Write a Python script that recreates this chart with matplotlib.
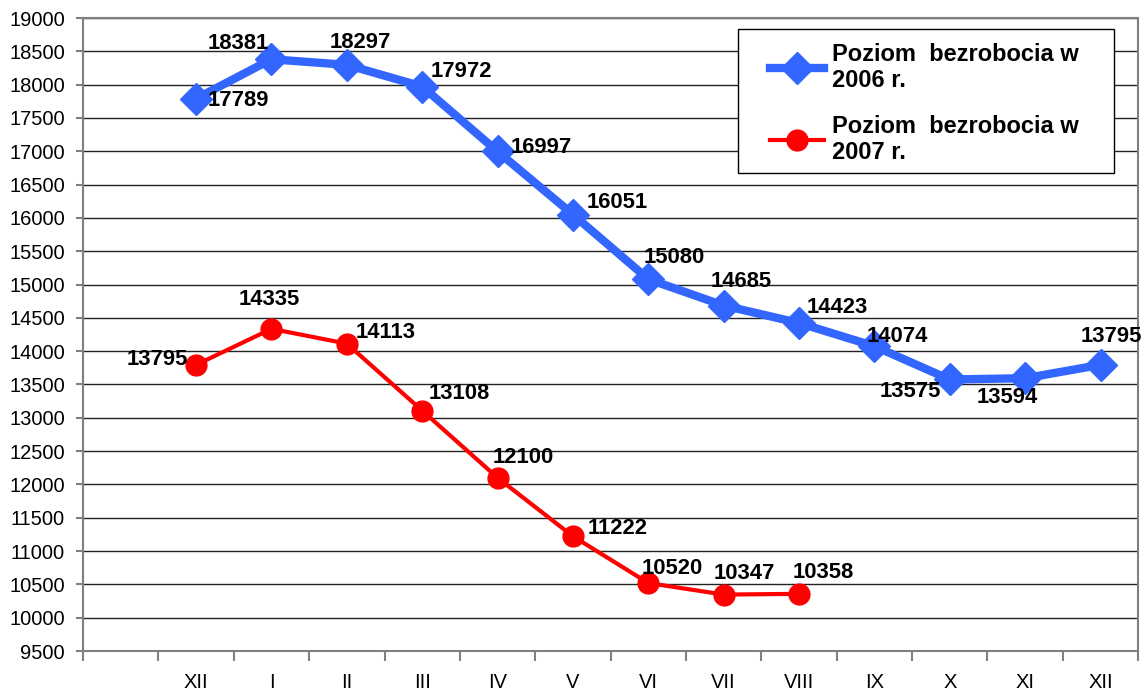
import matplotlib.pyplot as plt
from matplotlib.patches import Rectangle

plt.rcParams['font.family'] = ['Liberation Sans', 'DejaVu Sans']

months = ['', 'XII', 'I', 'II', 'III', 'IV', 'V', 'VI', 'VII', 'VIII', 'IX', 'X', 'XI', 'XII']
bezrobocie_2006 = [17789, 18381, 18297, 17972, 16997, 16051, 15080, 14685, 14423, 14074, 13575, 13594, 13795]
bezrobocie_2007 = [13795, 14335, 14113, 13108, 12100, 11222, 10520, 10347, 10358]

# label offsets in pixels (dx, dy, horizontal alignment)
off_2006 = [(12, -2, 'left'), (-3, 16, 'right'), (44, 22, 'right'), (8, 15, 'left'),
            (13, 4, 'left'), (14, 12, 'left'), (-5, 22, 'left'), (-13, 24, 'left'),
            (8, 15, 'left'), (-8, 10, 'left'), (-9, -12, 'right'), (-49, -19, 'left'),
            (-20, 28, 'left')]
off_2007 = [(-8, 5, 'right'), (-33, 29, 'left'), (9, 11, 'left'), (6, 17, 'left'),
            (-5, 20, 'left'), (15, 8, 'left'), (-7, 15, 'left'), (-10, 21, 'left'),
            (-6, 21, 'left')]


def main():
    fig = plt.figure(figsize=(11.42, 6.90), dpi=100)
    ax = fig.add_axes([0.0727, 0.0565, 0.924, 0.9174])

    x06 = list(range(1, 1 + len(bezrobocie_2006)))
    x07 = list(range(1, 1 + len(bezrobocie_2007)))

    ax.plot(x06, bezrobocie_2006, color='#3366FF', lw=6, marker='D', markersize=16,
            label='Poziom  bezrobocia w\n2006 r.', zorder=3)
    ax.plot(x07, bezrobocie_2007, color='#FF0000', lw=3, marker='o', markersize=15,
            label='Poziom  bezrobocia w\n2007 r.', zorder=3)

    for x, y, (dx, dy, ha) in zip(x06, bezrobocie_2006, off_2006):
        ax.annotate(str(y), (x, y), xytext=(dx * 0.72, dy * 0.72), textcoords='offset points',
                    ha=ha, va='center', fontsize=15.8, fontweight='bold', zorder=4)
    for x, y, (dx, dy, ha) in zip(x07, bezrobocie_2007, off_2007):
        ax.annotate(str(y), (x, y), xytext=(dx * 0.72, dy * 0.72), textcoords='offset points',
                    ha=ha, va='center', fontsize=15.8, fontweight='bold', zorder=4)

    ax.set_xlim(-0.5, len(months) - 0.5)
    ax.set_ylim(9500, 19000)
    ax.set_yticks(range(9500, 19001, 500))
    ax.set_xticks([i - 0.5 for i in range(len(months) + 1)])
    ax.set_xticklabels([])
    ax.set_xticks(range(len(months)), minor=True)
    ax.set_xticklabels(months, minor=True)
    ax.tick_params(axis='x', which='major', length=7, color='#808080', width=1.5)
    ax.tick_params(axis='x', which='minor', length=0, pad=16, labelsize=14.5)
    ax.tick_params(axis='y', length=5, color='#808080', width=1.5, labelsize=14.5, pad=8)

    ax.grid(axis='y', color='#222222', lw=1)
    ax.set_axisbelow(True)
    for s in ax.spines.values():
        s.set_color('#808080')
        s.set_linewidth(1.5)

    # legend box drawn separately so the padding matches
    ax.add_patch(Rectangle((0.6209, 0.7551), 0.3564, 0.2275, transform=ax.transAxes,
                           facecolor='white', edgecolor='black', lw=1, zorder=5))
    leg = ax.legend(loc='upper left', bbox_to_anchor=(0.6512, 0.961), borderaxespad=0,
                    frameon=False, prop={'weight': 'bold', 'size': 17}, handlelength=2.3,
                    handletextpad=0.3, labelspacing=0.95, borderpad=0)
    leg.set_zorder(6)

    fig.savefig('out.png', dpi=100)


if __name__ == "__main__":
    main()
